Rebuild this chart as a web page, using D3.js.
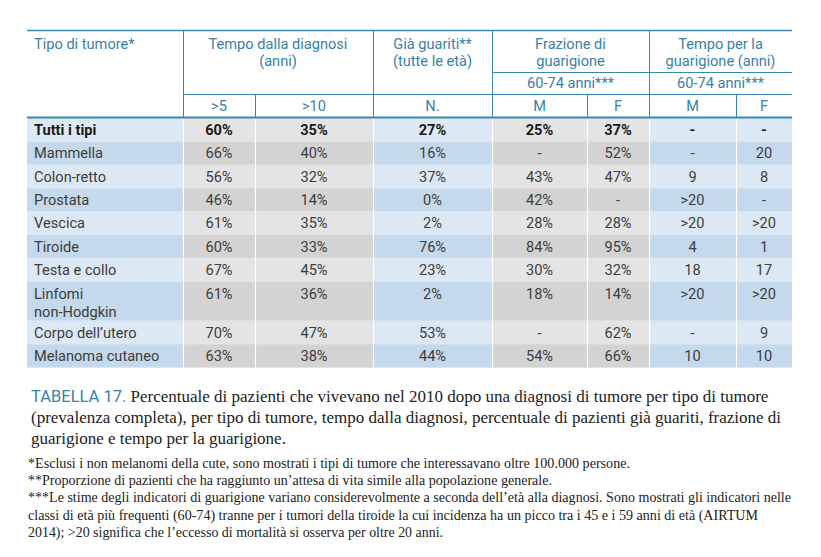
<!DOCTYPE html>
<html><head><meta charset="utf-8">
<script src="https://cdn.jsdelivr.net/npm/d3@7/dist/d3.min.js"></script>
<style>
html,body{margin:0;padding:0;background:#fff;}
svg{display:block;}
</style></head>
<body>
<svg id="chart" width="821" height="557"></svg>
<script>
// ---- data ----
const tumorTypes = ["Tutti i tipi","Mammella","Colon-retto","Prostata","Vescica","Tiroide","Testa e collo","Linfomi\nnon-Hodgkin","Corpo dell\u2019utero","Melanoma cutaneo"];
const diag5  = ["60%","66%","56%","46%","61%","60%","67%","61%","70%","63%"];
const diag10 = ["35%","40%","32%","14%","35%","33%","45%","36%","47%","38%"];
const guaritiN = ["27%","16%","37%","0%","2%","76%","23%","2%","53%","44%"];
const frazM = ["25%","-","43%","42%","28%","84%","30%","18%","-","54%"];
const frazF = ["37%","52%","47%","-","28%","95%","32%","14%","62%","66%"];
const tempoM = ["-","-","9",">20",">20","4","18",">20","-","10"];
const tempoF = ["-","20","8","-",">20","1","17",">20","9","10"];
const subHeaders = [">5",">10","N.","M","F","M","F"];
const groupHeaders = [
  {lines:["Tempo dalla diagnosi","(anni)"], cols:[1,2]},
  {lines:["Gi\u00e0 guariti**","(tutte le et\u00e0)"], cols:[3,3]},
  {lines:["Frazione di","guarigione"], cols:[4,5], sub:"60-74 anni***"},
  {lines:["Tempo per la","guarigione (anni)"], cols:[6,7], sub:"60-74 anni***"}
];
const firstHeader = "Tipo di tumore*";
const captionLabel = "TABELLA 17.";
const captionLines = [
  " Percentuale di pazienti che vivevano nel 2010 dopo una diagnosi di tumore per tipo di tumore",
  "(prevalenza completa), per tipo di tumore, tempo dalla diagnosi, percentuale di pazienti gi\u00e0 guariti, frazione di",
  "guarigione e tempo per la guarigione."
];
const footnotes = [
  "*Esclusi i non melanomi della cute, sono mostrati i tipi di tumore che interessavano oltre 100.000 persone.",
  "**Proporzione di pazienti che ha raggiunto un\u2019attesa di vita simile alla popolazione generale.",
  "***Le stime degli indicatori di guarigione variano considerevolmente a seconda dell\u2019et\u00e0 alla diagnosi. Sono mostrati gli indicatori nelle",
  "classi di et\u00e0 pi\u00f9 frequenti (60-74) tranne per i tumori della tiroide la cui incidenza ha un picco tra i 45 e i 59 anni di et\u00e0 (AIRTUM",
  "2014); >20 significa che l\u2019eccesso di mortalit\u00e0 si osserva per oltre 20 anni."
];

// ---- layout (styling only) ----
const footnoteWidths = [602, 524, 763, 730, 415];
const svg = d3.select("#chart");
const colEdges = [27,183,255,373,492,587,649,736,792];
const xEdge = d3.scaleOrdinal().domain(d3.range(colEdges.length)).range(colEdges);
const colMid = i => (xEdge(i)+xEdge(i+1))/2;
const sans = "Roboto, 'DejaVu Sans', sans-serif";
const serif = "'Liberation Serif', 'DejaVu Serif', serif";
const teal = "#3a88b0";
const headText = "#3a80a9";
const bodyText = "#3d3d3d";
const blueFill = ["#dce9f4","#c4d9eb"];
const grayFill = ["#e4e4e4","#d3d3d3"];
const colKind = ["b","g","g","b","g","g","b","b"];
const fs = 14.6;

const columns = [tumorTypes, diag5, diag10, guaritiN, frazM, frazF, tempoM, tempoF];
const singleH = 23.4, doubleH = 39;
const rowLines = tumorTypes.map(t => t.split("\n").length);
const rowH = rowLines.map(n => n>1 ? doubleH : singleH);
const rowTop0 = 118;
const rowTops = rowH.map((h,i)=> rowTop0 + d3.sum(rowH.slice(0,i)));

// ---- body cells ----
const rows = svg.append("g").selectAll("g").data(tumorTypes).join("g");
rows.each(function(t,ri){
  const g = d3.select(this);
  const y0 = rowTops[ri], h = rowH[ri];
  columns.forEach((col,ci)=>{
    const fills = colKind[ci]==="b" ? blueFill : grayFill;
    g.append("rect")
      .attr("x", xEdge(ci))
      .attr("y", y0)
      .attr("width", xEdge(ci+1)-xEdge(ci))
      .attr("height", h)
      .attr("fill", fills[ri%2]);
    const lines = col[ri].split("\n");
    lines.forEach((ln,li)=>{
      g.append("text")
        .attr("x", ci===0 ? xEdge(0)+7 : colMid(ci))
        .attr("y", y0 + 16.8 + li*18)
        .attr("text-anchor", ci===0 ? "start" : "middle")
        .attr("font-family", sans)
        .attr("font-size", fs)
        .attr("font-weight", ri===0 ? 700 : 400)
        .attr("fill", ri===0 ? "#1a1a1a" : bodyText)
        .text(ln);
    });
  });
});
// white separators between body columns
const bodyBottom = rowTops[rowTops.length-1] + rowH[rowH.length-1];
svg.append("g").selectAll("line").data(d3.range(1,columns.length)).join("line")
  .attr("x1", i=>xEdge(i)+0.5).attr("x2", i=>xEdge(i)+0.5)
  .attr("y1", rowTop0).attr("y2", bodyBottom)
  .attr("stroke","#fff").attr("stroke-width",1.2);

// ---- header ----
const hdr = svg.append("g");
const yTop = 30, ySubTop = 72, yColTop = 94, yHdrBottom = 117;
const hline = (x1,x2,y,w=1)=>hdr.append("line").attr("x1",x1).attr("x2",x2).attr("y1",y).attr("y2",y).attr("stroke",teal).attr("stroke-width",w);
const vline = (x,y1,y2)=>hdr.append("line").attr("x1",x).attr("x2",x).attr("y1",y1).attr("y2",y2).attr("stroke",teal).attr("stroke-width",1);
hline(xEdge(0), xEdge(8), yTop+0.5, 1.3);
hline(xEdge(1), xEdge(8), yColTop+0.5);
hline(xEdge(4), xEdge(8), ySubTop+0.5);
hline(xEdge(0), xEdge(8), yHdrBottom+0.5, 2);
[1,3,4,6].forEach(i=>vline(xEdge(i)+0.5, yTop, yHdrBottom));
[2,5,7].forEach(i=>vline(xEdge(i)+0.5, yColTop, yHdrBottom));

const htext = (x,y,s,anchor="middle")=>hdr.append("text").attr("x",x).attr("y",y)
  .attr("text-anchor",anchor).attr("font-family",sans).attr("font-size",fs)
  .attr("fill",headText).text(s);
htext(xEdge(0)+7, 49, firstHeader, "start");
groupHeaders.forEach(gh=>{
  const cx = (xEdge(gh.cols[0]) + xEdge(gh.cols[1]+1))/2;
  gh.lines.forEach((ln,li)=>htext(cx, 49 + li*17, ln));
  if (gh.sub) htext(cx, 88, gh.sub);
});
subHeaders.forEach((s,i)=>htext(colMid(i+1), 111, s));

// ---- caption ----
const cap = svg.append("g");
const c1 = cap.append("text").attr("x",31).attr("y",402).attr("font-size",17).attr("font-family",serif).attr("fill","#222");
c1.append("tspan").attr("font-family",sans).attr("fill",headText).attr("font-size",16.5).text(captionLabel);
c1.append("tspan").text(captionLines[0]);
captionLines.slice(1).forEach((ln,i)=>{
  cap.append("text").attr("x",31).attr("y",423 + i*20.5)
    .attr("font-size",17).attr("font-family",serif).attr("fill","#222").text(ln);
});

// ---- footnotes ----
svg.append("g").selectAll("text").data(footnotes).join("text")
  .attr("x",28).attr("y",(d,i)=>468 + i*17.2)
  .attr("font-size",14).attr("font-family",serif).attr("fill","#222")
  .attr("textLength",(d,i)=>footnoteWidths[i]).attr("lengthAdjust","spacingAndGlyphs")
  .text(d=>d);
</script>
</body></html>
